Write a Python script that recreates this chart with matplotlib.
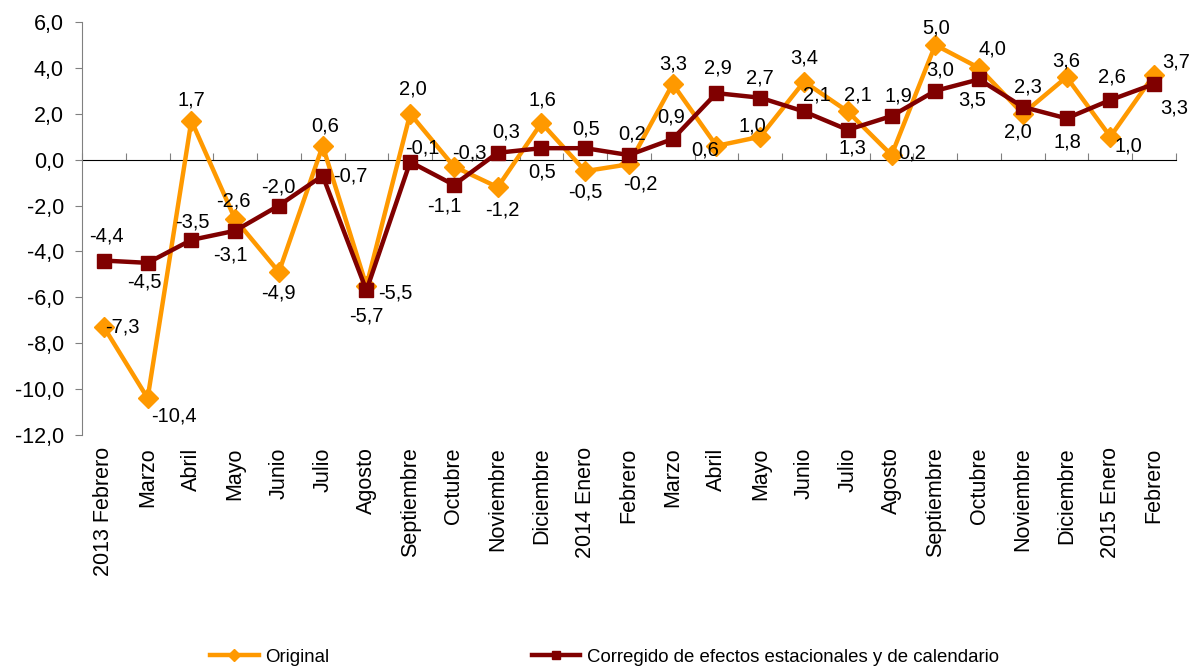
import numpy as np
import matplotlib
matplotlib.use("Agg")
import matplotlib.pyplot as plt

plt.rcParams["font.family"] = ["Liberation Sans", "DejaVu Sans"]

# ── data ──────────────────────────────────────────────────────────────────────
MESES = [
    "2013 Febrero", "Marzo", "Abril", "Mayo", "Junio", "Julio", "Agosto",
    "Septiembre", "Octubre", "Noviembre", "Diciembre", "2014 Enero", "Febrero",
    "Marzo", "Abril", "Mayo", "Junio", "Julio", "Agosto", "Septiembre",
    "Octubre", "Noviembre", "Diciembre", "2015 Enero", "Febrero",
]
ORIGINAL = [-7.3, -10.4, 1.7, -2.6, -4.9, 0.6, -5.5, 2.0, -0.3, -1.2, 1.6, -0.5,
            -0.2, 3.3, 0.6, 1.0, 3.4, 2.1, 0.2, 5.0, 4.0, 2.0, 3.6, 1.0, 3.7]
CORREGIDO = [-4.4, -4.5, -3.5, -3.1, -2.0, -0.7, -5.7, -0.1, -1.1, 0.3, 0.5, 0.5,
             0.2, 0.9, 2.9, 2.7, 2.1, 1.3, 1.9, 3.0, 3.5, 2.3, 1.8, 2.6, 3.3]

# label offsets in pixels (dx, dy with y pointing up)
OFF_ORIG = [(19, 0), (26, -18), (0, 21), (-2, 18), (0, -21), (3, 20), (29, -7),
            (3, 25), (15, 14), (5, -23), (1, 23), (0, -21), (11, -20), (0, 20),
            (-11, -4), (-8, 11), (0, 24), (10, 16), (21, 2), (1, 17), (13, 19),
            (-5, -18), (0, 16), (18, -9), (22, 13)]
OFF_CORR = [(3, 25), (-3, -19), (1, 18), (-5, -24), (-1, 19), (28, 0), (0, -26),
            (12, 14), (-10, -21), (8, 21), (1, -24), (1, 19), (3, 21), (-2, 22),
            (1, 25), (0, 20), (13, 16), (5, -18), (7, 20), (5, 21), (-7, -21),
            (5, 20), (1, -24), (2, 23), (20, -24)]

ORANGE = "#FF9900"
DARKRED = "#800000"

YMIN, YMAX = -12, 6


def fmt(v):
    return f"{v:.1f}".replace(".", ",")


fig = plt.figure(figsize=(11.9, 6.68), dpi=100)
ax = fig.add_axes([0.0689, 0.349, 0.9193, 0.618])

x = np.arange(len(MESES))
ax.plot(x, ORIGINAL, color=ORANGE, lw=3.2, marker="D", ms=10,
        mec=ORANGE, mfc=ORANGE, label="Original", zorder=3)
ax.plot(x, CORREGIDO, color=DARKRED, lw=3.2, marker="s", ms=10,
        mec=DARKRED, mfc=DARKRED,
        label="Corregido de efectos estacionales y de calendario", zorder=4)

for xi, v, (dx, dy) in zip(x, ORIGINAL, OFF_ORIG):
    ax.annotate(fmt(v), (xi, v), xytext=(dx, dy), textcoords="offset pixels",
                ha="center", va="center", fontsize=14.5, color="#000000", zorder=5)
for xi, v, (dx, dy) in zip(x, CORREGIDO, OFF_CORR):
    ax.annotate(fmt(v), (xi, v), xytext=(dx, dy), textcoords="offset pixels",
                ha="center", va="center", fontsize=14.5, color="#000000", zorder=5)

ax.set_xlim(-0.5, len(MESES) - 0.5)
ax.set_ylim(YMIN, YMAX)
ax.set_yticks(np.arange(YMIN, YMAX + 1, 2))
ax.set_yticklabels([fmt(t) for t in np.arange(YMIN, YMAX + 1, 2)], fontsize=15.5)
ax.tick_params(axis="y", direction="out", length=5, color="#808080", pad=8)

ax.set_xticks(x)
ax.set_xticklabels(MESES, rotation=90, fontsize=15.5, va="top", ha="center")
ax.tick_params(axis="x", length=0, pad=9)

for s in ["top", "right", "bottom"]:
    ax.spines[s].set_visible(False)
ax.spines["left"].set_color("#808080")

# zero line with category boundary ticks
sec = ax.secondary_xaxis((0 - YMIN) / (YMAX - YMIN))
sec.set_xticks(np.arange(-0.5, len(MESES), 1.0))
sec.set_xticklabels([])
sec.tick_params(direction="out", length=5, color="#808080")
sec.spines["bottom"].set_color("#808080")

fig.legend(loc="lower center", bbox_to_anchor=(0.508, -0.022), ncol=2,
           frameon=False, fontsize=13.4, handlelength=2.6, columnspacing=10.9,
           handletextpad=0.35, markerscale=0.6)

fig.savefig("out.png", dpi=100)
